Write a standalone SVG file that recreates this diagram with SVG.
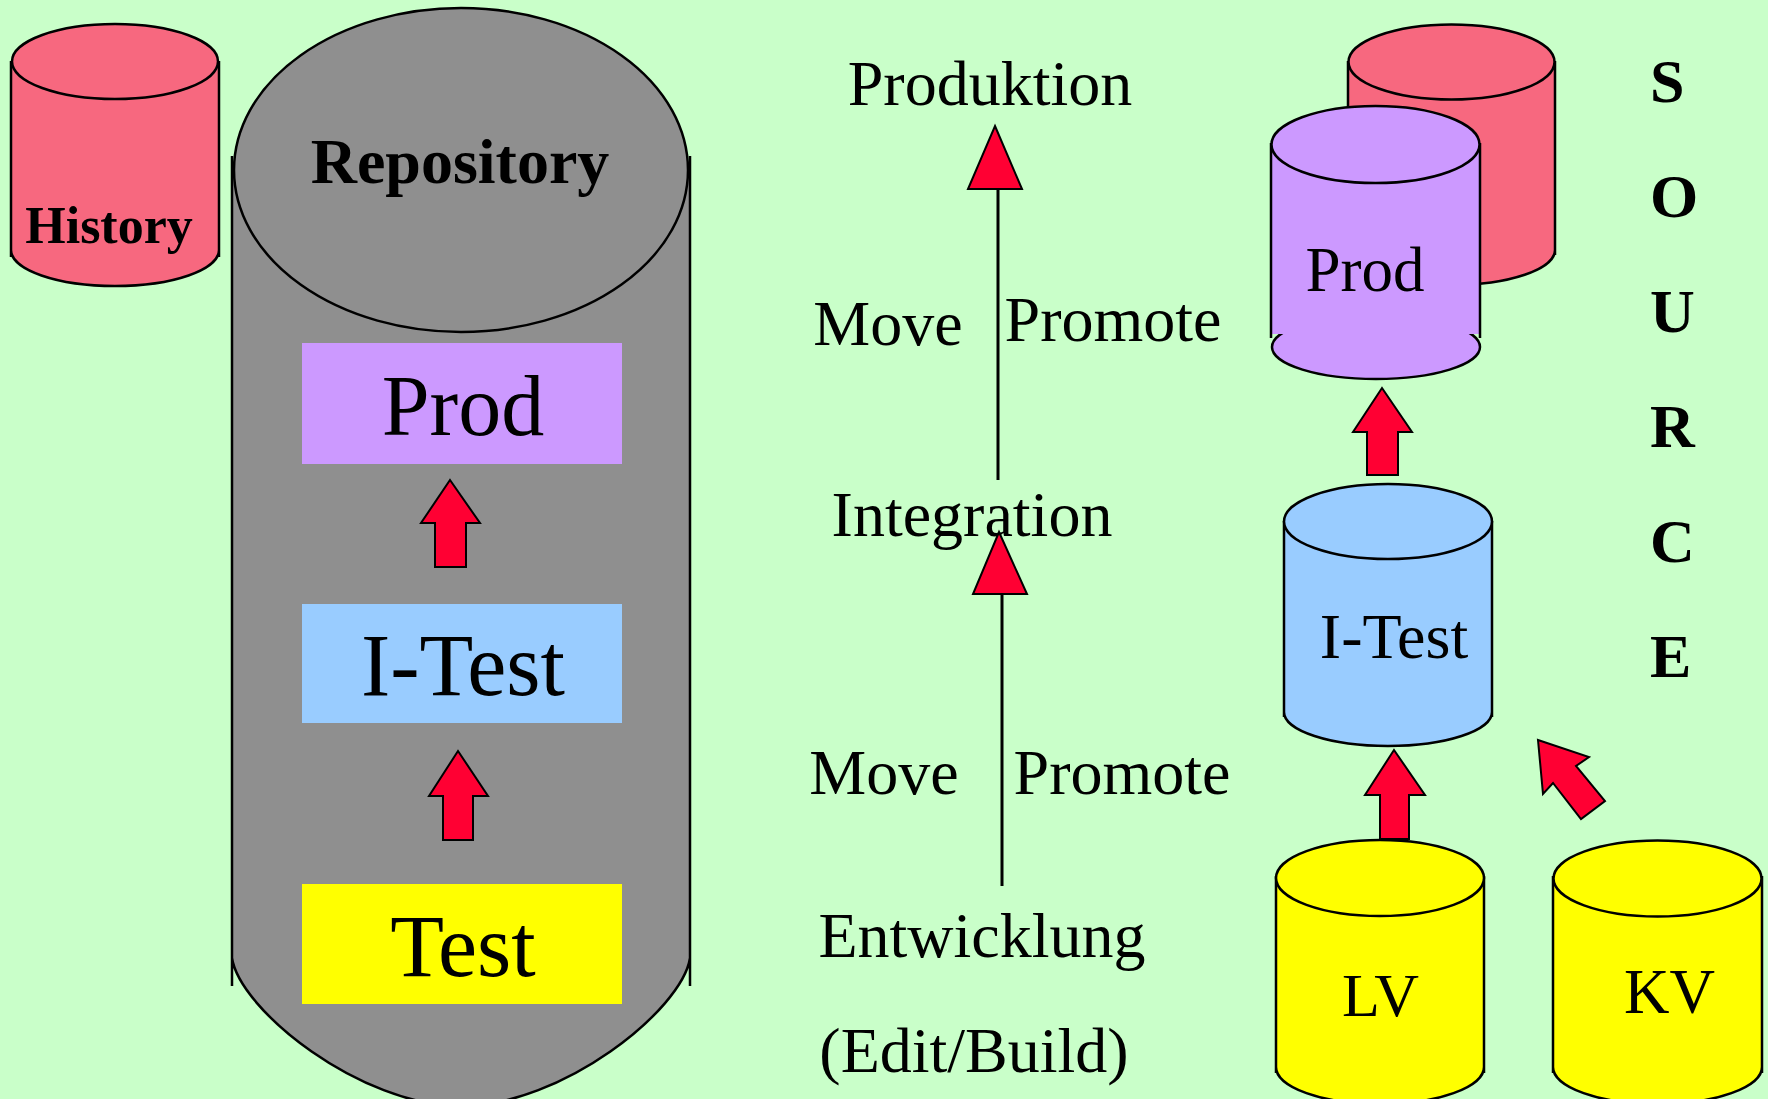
<svg xmlns="http://www.w3.org/2000/svg" width="1768" height="1099" viewBox="0 0 1768 1099">
<defs>
<style>
.stk{stroke:#000;stroke-width:2.5;fill:none}
.t{font-family:"Liberation Serif","Times New Roman",serif;fill:#000;text-anchor:middle}
.b{font-weight:bold}
.pink{fill:#F7687F}
.purple{fill:#CC99FF}
.blue{fill:#99CCFF}
.yellow{fill:#FFFF00}
.gray{fill:#8F8F8F}
.arr{fill:#FF0033;stroke:#000;stroke-width:2;stroke-linejoin:miter}
.ln{stroke:#000;stroke-width:3;fill:none}
</style>
</defs>
<rect width="1768" height="1099" fill="#C9FFC9"/>

<g id="history">
<path class="pink" d="M11,62 L11,250 A104,36 0 0 0 219,250 L219,62 Z"/>
<path class="stk" d="M11,61 L11,257 M219,61 L219,257 M11,250 A104,36 0 0 0 219,250"/>
<ellipse class="stk" cx="115" cy="61.5" rx="103" ry="37.5" style="fill:#F7687F"/>
<text class="t b" x="109" y="243" font-size="52">History</text>
</g>

<g id="repository">
<path class="gray" d="M232,170 L232,958 C240,1010 360,1106 461,1106 C562,1106 682,1010 690,958 L690,170 Z"/>
<path class="stk" d="M232,156 L232,986 M690,156 L690,986 M232,958 C240,1010 360,1106 461,1106 C562,1106 682,1010 690,958"/>
<ellipse class="stk" cx="461" cy="170" rx="227" ry="162" style="fill:#8F8F8F"/>
<text class="t b" x="460" y="183" font-size="64">Repository</text>
</g>

<g id="repo-prod">
<rect class="purple" x="302" y="343" width="320" height="121"/>
<text class="t" x="463" y="435" font-size="86">Prod</text>
</g>
<g id="repo-itest">
<rect class="blue" x="302" y="604" width="320" height="119"/>
<text class="t" x="463" y="695" font-size="88">I-Test</text>
</g>
<g id="repo-test">
<rect class="yellow" x="302" y="884" width="320" height="120"/>
<text class="t" x="463" y="976" font-size="88">Test</text>
</g>

<g id="stage-produktion"><text class="t" x="990" y="105" font-size="64">Produktion</text></g>
<g id="stage-integration"><text class="t" x="972" y="536" font-size="64">Integration</text></g>
<g id="stage-entwicklung">
<text class="t" x="982" y="957" font-size="64">Entwicklung</text>
<text class="t" x="974" y="1072" font-size="64">(Edit/Build)</text>
</g>
<g id="labels">
<text class="t" x="888" y="345" font-size="64">Move</text>
<text class="t" x="1113" y="341" font-size="64">Promote</text>
<text class="t" x="884" y="794" font-size="64">Move</text>
<text class="t" x="1122" y="794" font-size="64">Promote</text>
</g>

<g id="source-history">
<path class="pink" d="M1348,62 L1348,250 A103.5,35 0 0 0 1555,250 L1555,62 Z"/>
<path class="stk" d="M1348,61 L1348,255 M1555,61 L1555,255 M1348,250 A103.5,35 0 0 0 1555,250"/>
<ellipse class="stk" cx="1451.5" cy="62" rx="103" ry="37.5" style="fill:#F7687F"/>
</g>

<g id="source-prod">
<ellipse class="stk" cx="1376" cy="347" rx="104" ry="32" style="fill:#CC99FF"/>
<rect class="purple" x="1271" y="144" width="209" height="190"/>
<path class="stk" d="M1271,143 L1271,338 M1480,143 L1480,338"/>
<ellipse class="stk" cx="1375.5" cy="144.5" rx="104" ry="38.5" style="fill:#CC99FF"/>
<text class="t" x="1365" y="291" font-size="63">Prod</text>
</g>

<g id="source-itest">
<path class="blue" d="M1284,522 L1284,712 A104,34 0 0 0 1492,712 L1492,522 Z"/>
<path class="stk" d="M1284,521 L1284,717 M1492,521 L1492,717 M1284,712 A104,34 0 0 0 1492,712"/>
<ellipse class="stk" cx="1388" cy="521.5" rx="104" ry="37.5" style="fill:#99CCFF"/>
<text class="t" x="1394" y="658" font-size="64">I-Test</text>
</g>

<g id="source-lv">
<path class="yellow" d="M1276,878 L1276,1067 A104,37 0 0 0 1484,1067 L1484,878 Z"/>
<path class="stk" d="M1276,876 L1276,1073 M1484,876 L1484,1073 M1276,1067 A104,37 0 0 0 1484,1067"/>
<ellipse class="stk" cx="1380" cy="878" rx="104" ry="38" style="fill:#FFFF00"/>
<text class="t" x="1380.5" y="1016" font-size="62">LV</text>
</g>

<g id="source-kv">
<path class="yellow" d="M1553,878 L1553,1067 A104.5,37 0 0 0 1762,1067 L1762,878 Z"/>
<path class="stk" d="M1553,876 L1553,1073 M1762,876 L1762,1073 M1553,1067 A104.5,37 0 0 0 1762,1067"/>
<ellipse class="stk" cx="1657.5" cy="878.5" rx="104" ry="38" style="fill:#FFFF00"/>
<text class="t" x="1669.5" y="1013" font-size="63">KV</text>
</g>

<g id="source-label" font-family="Liberation Serif, Times New Roman, serif" font-weight="bold" font-size="62">
<text x="1650" y="102">S</text>
<text x="1650" y="217">O</text>
<text x="1650" y="332">U</text>
<text x="1650" y="447">R</text>
<text x="1650" y="562">C</text>
<text x="1650" y="677">E</text>
</g>

<g id="connectors">
<line class="ln" x1="998" y1="189" x2="998" y2="480"/>
<polygon class="arr" points="995,126 1022,189 968,189"/>
<line class="ln" x1="1002" y1="594" x2="1002" y2="886"/>
<polygon class="arr" points="999,532 1027,594 973,594"/>
<polygon class="arr" points="450,480 480,523 466,523 466,567 435,567 435,523 421,523"/>
<polygon class="arr" points="458,751 488,796 473,796 473,840 443,840 443,796 429,796"/>
<polygon class="arr" points="1382,388 1412,432 1398,432 1398,475 1367,475 1367,432 1353,432"/>
<polygon class="arr" points="1394,750 1425,795 1409,795 1409,839 1380,839 1380,795 1365,795"/>
<polygon class="arr" points="1538,740 1589,757 1576,766 1605,801 1581,819 1553,783 1543,794"/>
</g>
</svg>
